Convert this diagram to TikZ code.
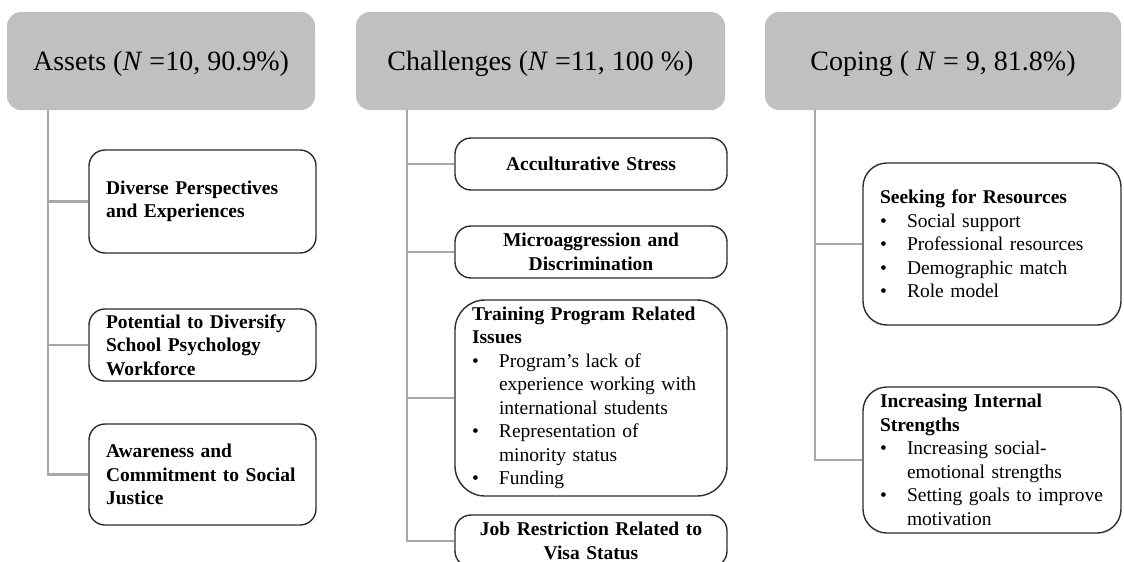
\documentclass[tikz,border=0pt]{standalone}
\usepackage{fontspec}
\setmainfont{Liberation Serif}
\usetikzlibrary{positioning}
\definecolor{headgray}{RGB}{192,192,192}
\definecolor{linegray}{RGB}{168,168,168}
\definecolor{boxline}{RGB}{45,45,45}
\newcommand{\bul}[1]{\makebox[27pt][l]{\textbullet}#1}
\newcommand{\cont}[1]{\hspace*{27pt}#1}
\newcommand{\headtxt}[1]{\raisebox{-9pt}[0pt][0pt]{#1}}
\tikzset{
    catbox/.style={fill=headgray, rounded corners=14pt, minimum height=98pt, inner sep=0pt,
        font=\fontsize{28}{32}\selectfont},
    themebox/.style={draw=boxline, line width=1.4pt, rounded corners=16pt, fill=white,
        inner xsep=17pt, inner ysep=0pt, font=\fontsize{19.5}{23.5}\selectfont},
    trunk/.style={linegray, line width=2.6pt}
}

\begin{document}
\begin{tikzpicture}[x=1pt, y=-1pt]
                        \useasboundingbox (0,0) rectangle (1124,562);

                        \node[catbox, minimum width=308pt] (assets) at (161,61) {\headtxt{Assets (\textit{N} =10, 90.9\%)}};
                        \node[catbox, minimum width=369pt] (chall) at (540.5,61) {\headtxt{Challenges (\textit{N} =11, 100 \%)}};
                        \node[catbox, minimum width=356pt] (coping) at (943,61) {\headtxt{Coping ( \textit{N} = 9, 81.8\%)}};

                        \node[themebox, align=left, text width=193pt, minimum height=103pt] (a1) at (202.5,201.5)
                            {\bfseries Diverse Perspectives\\ and Experiences};
                        \node[themebox, align=left, text width=193pt, minimum height=72pt] (a2) at (202.5,345)
                            {\bfseries Potential to Diversify\\ School Psychology\\ Workforce};
                        \node[themebox, align=left, text width=193pt, minimum height=101pt] (a3) at (202.5,474.5)
                            {\bfseries Awareness and\\ Commitment to Social\\ Justice};

                        \node[themebox, align=center, text width=238pt, minimum height=52pt] (c1) at (591,164)
                            {\bfseries Acculturative Stress};
                        \node[themebox, align=center, text width=238pt, minimum height=52pt] (c2) at (591,252)
                            {\bfseries Microaggression and\\ Discrimination};
                        \node[themebox, align=left, text width=238pt, minimum height=196pt, rounded corners=30pt] (c3) at (591,398)
                            {{\bfseries Training Program Related\\ Issues}\\
                             \bul{Program’s lack of}\\ \cont{experience working with}\\ \cont{international students}\\
                             \bul{Representation of}\\ \cont{minority status}\\
                             \bul{Funding}};
                        \node[themebox, align=center, text width=238pt, minimum height=52pt] (c4) at (591,541)
                            {\bfseries Job Restriction Related to\\ Visa Status};

                        \node[themebox, align=left, text width=224pt, minimum height=162pt, rounded corners=24pt] (p1) at (992,244)
                            {{\bfseries Seeking for Resources}\\
                             \bul{Social support}\\ \bul{Professional resources}\\
                             \bul{Demographic match}\\ \bul{Role model}};
                        \node[themebox, align=left, text width=224pt, minimum height=146pt, rounded corners=24pt] (p2) at (992,460)
                            {{\bfseries Increasing Internal\\ Strengths}\\
                             \bul{Increasing social-}\\ \cont{emotional strengths}\\
                             \bul{Setting goals to improve}\\ \cont{motivation}};

                        \coordinate (atop) at ([xshift=41pt]assets.south west);
                        \coordinate (ctop) at ([xshift=51pt]chall.south west);
                        \coordinate (ptop) at ([xshift=50pt]coping.south west);

                        \draw[trunk]
                        (atop) |- (a1.west)
                        (atop) |- (a2.west)
                        (atop) |- (a3.west)
                        (ctop) |- (c1.west)
                        (ctop) |- (c2.west)
                        (ctop) |- (c3.west)
                        (ctop) |- (c4.west)
                        (ptop) |- (p1.west)
                        (ptop) |- (p2.west);
                    \end{tikzpicture}
\end{document}
